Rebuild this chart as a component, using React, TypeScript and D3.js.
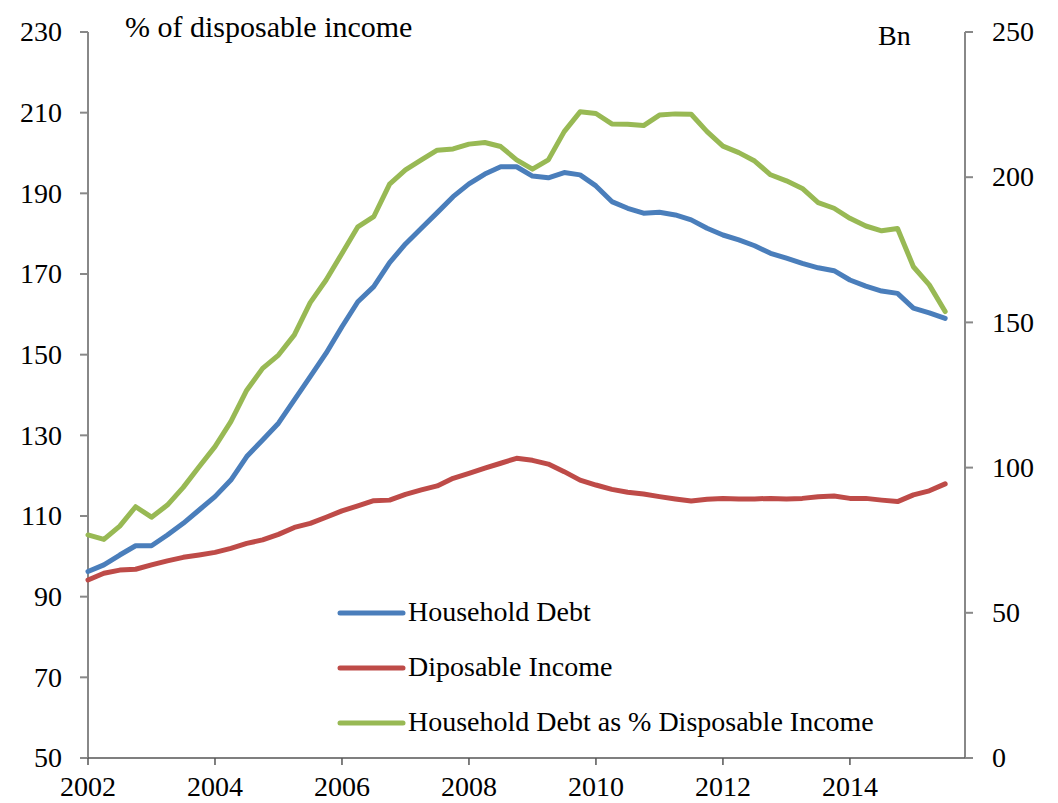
import React from "react";
import * as d3 from "d3";

// Quarterly data, 2002Q1 .. 2015Q3
const startYear = 2002;
const householdDebt = [
  64.2, 66.5, 69.9, 73.1, 73.1, 76.8, 80.8, 85.4, 90.0, 95.7, 103.8, 109.5, 115.3, 123.3, 131.3,
  139.4, 148.5, 157.1, 162.3, 170.6, 177.0, 182.4, 187.8, 193.3, 197.7, 201.1, 203.6, 203.6, 200.4,
  199.8, 201.6, 200.8, 197.0, 191.6, 189.3, 187.6, 187.9, 187.0, 185.3, 182.4, 180.1, 178.4, 176.4,
  173.8, 172.1, 170.3, 168.8, 167.8, 164.6, 162.5, 160.8, 160.0, 154.9, 153.3, 151.4,
];
const disposableIncome = [
  61.3, 63.6, 64.7, 65.0, 66.5, 67.9, 69.1, 69.9, 70.8, 72.2, 73.9, 75.1, 77.0, 79.4, 80.8,
  82.9, 85.1, 86.8, 88.6, 88.8, 90.8, 92.3, 93.7, 96.3, 98.0, 99.8, 101.5, 103.2, 102.5,
  101.2, 98.6, 95.7, 94.0, 92.5, 91.5, 90.9, 90.0, 89.2, 88.5, 89.1, 89.4, 89.2, 89.2,
  89.4, 89.2, 89.4, 90.0, 90.2, 89.4, 89.4, 88.8, 88.3, 90.6, 92.0, 94.4,
];
const debtPctIncome = [
  105.3, 104.2, 107.5, 112.3, 109.7, 112.7, 117.1, 122.2, 127.2, 133.4, 141.2, 146.6, 149.9, 154.9, 162.9,
  168.5, 175.1, 181.7, 184.2, 192.3, 195.8, 198.3, 200.7, 201.0, 202.2, 202.6, 201.6, 198.3, 196.0,
  198.3, 205.3, 210.2, 209.8, 207.2, 207.1, 206.8, 209.4, 209.7, 209.6, 205.3, 201.7, 200.1, 198.0,
  194.6, 193.1, 191.2, 187.7, 186.3, 183.8, 181.9, 180.7, 181.3, 171.8, 167.3, 160.7,
];
const xTickYears = [2002, 2004, 2006, 2008, 2010, 2012, 2014];
const leftTicks = [50, 70, 90, 110, 130, 150, 170, 190, 210, 230];
const rightTicks = [0, 50, 100, 150, 200, 250];
const seriesNames = ["Household Debt", "Diposable Income", "Household Debt as % Disposable Income"];
const seriesColors = ["#4a7ebb", "#be4b48", "#98b954"];

const W = 1058;
const H = 803;
const left = 88;
const right = 965;
const top = 32;
const bottom = 758;
const FONT = "'Liberation Serif', 'Times New Roman', serif";

export default function App() {
  const x = d3.scaleLinear().domain([2002, 2015.8125]).range([left, right]);
  const yL = d3.scaleLinear().domain([50, 230]).range([bottom, top]);
  const yR = d3.scaleLinear().domain([0, 250]).range([bottom, top]);
  const t = (i: number) => startYear + i / 4;

  const lineR = d3
    .line<number>()
    .x((_, i) => x(t(i)))
    .y((d) => yR(d));
  const lineL = d3
    .line<number>()
    .x((_, i) => x(t(i)))
    .y((d) => yL(d));

  const paths = [lineR(householdDebt), lineR(disposableIncome), lineL(debtPctIncome)];
  const legendY = [613, 668, 723];

  return (
    <svg
      width={W}
      height={H}
      style={{ position: "absolute", left: 0, top: 0, background: "#fff" }}
      fontFamily={FONT}
    >
      <rect width={W} height={H} fill="#fff" />
      {/* left axis */}
      <line x1={left} x2={left} y1={top} y2={bottom} stroke="#888" strokeWidth={2} />
      {leftTicks.map((v) => (
        <g key={"l" + v}>
          <line x1={left - 8} x2={left} y1={yL(v)} y2={yL(v)} stroke="#888" strokeWidth={2} />
          <text x={62} y={yL(v)} dy="0.33em" textAnchor="end" fontSize={28} fill="#000">
            {v}
          </text>
        </g>
      ))}
      {/* right axis */}
      <line x1={right} x2={right} y1={top} y2={bottom} stroke="#888" strokeWidth={2} />
      {rightTicks.map((v) => (
        <g key={"r" + v}>
          <line x1={right} x2={right + 8} y1={yR(v)} y2={yR(v)} stroke="#888" strokeWidth={2} />
          <text x={992} y={yR(v)} dy="0.33em" textAnchor="start" fontSize={28} fill="#000">
            {v}
          </text>
        </g>
      ))}
      {/* bottom axis */}
      <line x1={left} x2={right} y1={bottom} y2={bottom} stroke="#555" strokeWidth={1.5} />
      {xTickYears.map((yr) => (
        <g key={"x" + yr}>
          <line x1={x(yr)} x2={x(yr)} y1={bottom} y2={bottom + 7} stroke="#555" strokeWidth={1.5} />
          <text x={x(yr)} y={796} textAnchor="middle" fontSize={28} fill="#000">
            {yr}
          </text>
        </g>
      ))}
      {/* axis titles */}
      <text x={125} y={37} fontSize={30} fill="#000">
        % of disposable income
      </text>
      <text x={878} y={45} fontSize={28} fill="#000">
        Bn
      </text>
      {/* series */}
      {paths.map((p, i) => (
        <path
          key={"s" + i}
          d={p || ""}
          fill="none"
          stroke={seriesColors[i]}
          strokeWidth={5}
          strokeLinejoin="round"
          strokeLinecap="round"
        />
      ))}
      {/* legend */}
      {seriesNames.map((n, i) => (
        <g key={"lg" + i}>
          <line
            x1={340}
            x2={403}
            y1={legendY[i]}
            y2={legendY[i]}
            stroke={seriesColors[i]}
            strokeWidth={5}
            strokeLinecap="round"
          />
          <text x={408} y={legendY[i] + 8} fontSize={28} fill="#000">
            {n}
          </text>
        </g>
      ))}
    </svg>
  );
}
